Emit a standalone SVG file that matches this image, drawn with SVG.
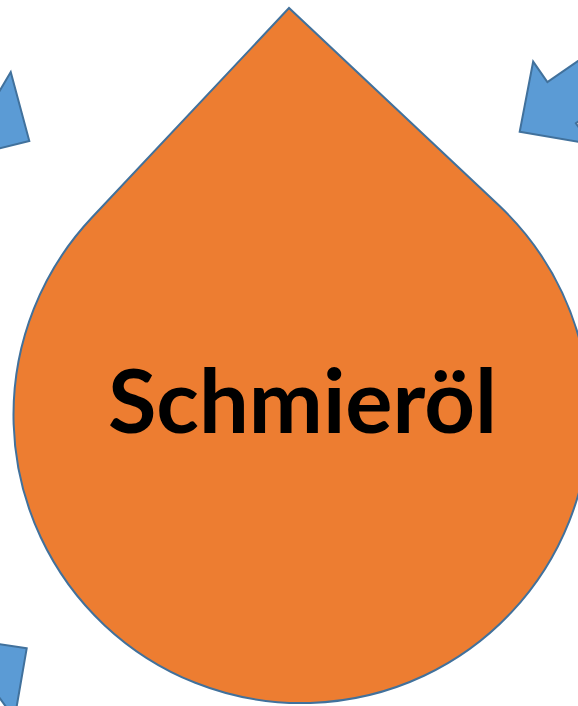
<svg xmlns="http://www.w3.org/2000/svg" width="578" height="706" viewBox="0 0 578 706">
  <style>
    .arrow { fill: #5B9BD5; stroke: #41719C; stroke-width: 2; stroke-linejoin: miter; }
    .drop { fill: #ED7D31; stroke: #41719C; stroke-width: 2; }
    .label { font-family: "Lato", "Open Sans", "Liberation Sans", sans-serif; font-weight: 700; font-size: 88px; fill: #000000; }
  </style>
  <defs>
    <!-- block arrow, tip at origin pointing along +x -->
    <polygon id="blockArrow" points="0,0 -51,-50 -51,-25 -260,-25 -260,25 -51,25 -51,50"/>
  </defs>
  <rect width="578" height="706" fill="#FFFFFF"/>

  <g id="connectors">
    <use href="#blockArrow" class="arrow" transform="translate(29.3 141) rotate(30.5)"/>
    <use href="#blockArrow" class="arrow" transform="translate(519.7 131.7) rotate(145.3)"/>
    <use href="#blockArrow" class="arrow" transform="translate(26.7 648.3) rotate(-35.8)"/>
  </g>

  <g id="schmieroel">
    <path class="drop" d="M 289 8 L 91.7 217.8 A 288 288 0 1 0 498.8 205.3 Z"/>
    <text class="label" x="108" y="433" textLength="389" lengthAdjust="spacingAndGlyphs">Schmieröl</text>
  </g>
</svg>
